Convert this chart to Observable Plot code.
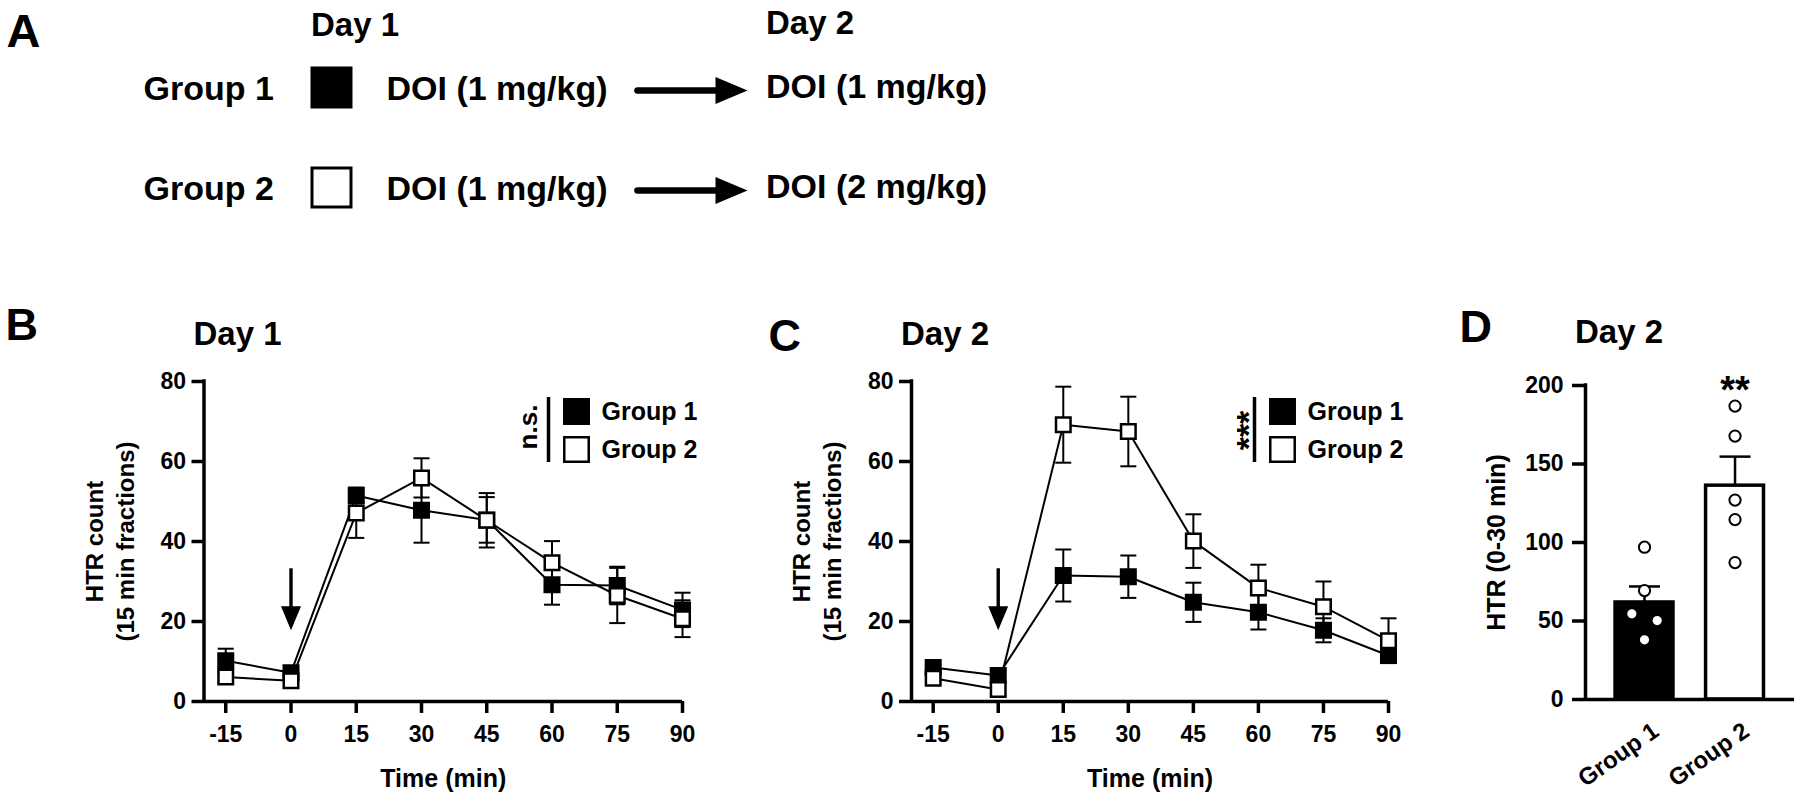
<!DOCTYPE html>
<html><head><meta charset="utf-8">
<script src="https://cdn.jsdelivr.net/npm/d3@7"></script>
<script src="https://cdn.jsdelivr.net/npm/@observablehq/plot@0.6"></script>
<style>
html,body{margin:0;padding:0;background:#fff;}
#fig{position:relative;width:1800px;height:801px;overflow:hidden;background:#fff;}
#fig > div{position:absolute;}
#fig svg{display:block;max-width:none;}
</style></head><body><div id="fig"></div>
<script>
// ---------------- data ----------------
const groups = ["Group 1", "Group 2"];
const days = ["Day 1", "Day 2"];
const day1Treatment = ["DOI (1 mg/kg)", "DOI (1 mg/kg)"];
const day2Treatment = ["DOI (1 mg/kg)", "DOI (2 mg/kg)"];

const times = [-15, 0, 15, 30, 45, 60, 75, 90];
const timeTicks = [-15, 0, 15, 30, 45, 60, 75, 90];
const htrTicks = [0, 20, 40, 60, 80];

const day1G1Mean = [10.2, 7.2, 51.5, 47.8, 45.4, 29.2, 29.0, 22.9];
const day1G1Sem  = [3.0, 1.0, 2.0, 8.1, 5.7, 5.0, 4.7, 4.3];
const day1G2Mean = [6.1, 5.2, 47.1, 55.9, 45.3, 34.7, 26.5, 20.7];
const day1G2Sem  = [1.2, 1.0, 6.2, 4.9, 6.8, 5.4, 6.9, 4.6];

const day2G1Mean = [8.5, 6.5, 31.5, 31.2, 24.8, 22.3, 17.8, 11.5];
const day2G1Sem  = [1.0, 1.0, 6.5, 5.3, 4.9, 4.3, 3.0, 1.5];
const day2G2Mean = [5.8, 3.0, 69.2, 67.5, 40.1, 28.4, 23.7, 15.2];
const day2G2Sem  = [1.2, 1.5, 9.5, 8.7, 6.7, 5.8, 6.3, 5.6];

const injectionTime = 0;      // DOI injection (arrow)
const injectionArrowTip = 17.8;
const sigDay1 = "n.s.";
const sigDay2 = "***";

const totalTicks = [0, 50, 100, 150, 200];
const totalMean = [61.8, 136.2];
const totalSem = [10.2, 18.5];
const g1Totals = [97.0, 69.4, 54.6, 50.3, 38.0];
const g2Totals = [186.9, 167.8, 127.0, 114.6, 87.2];
const g1PointOffset = [0, 0, -0.14, 0.14, 0];
const g2PointOffset = [0, 0, 0, 0, 0];
const sigTotal = "**";

// ---------------- helpers ----------------
const FONT = '"Liberation Sans", Arial, Helvetica, sans-serif';
const fig = document.getElementById("fig");
function place(node, left, top) {
  const d = document.createElement("div");
  d.style.left = left + "px"; d.style.top = top + "px";
  d.appendChild(node); fig.appendChild(d);
}
const baseStyle = {background: "none", color: "black", fontFamily: FONT, fontWeight: "bold", overflow: "visible"};
const fillScale = {domain: groups, range: ["black", "white"]};

const capSymbol = (w) => ({draw(ctx) { ctx.moveTo(-w, 0); ctx.lineTo(w, 0); }});
const downArrow = {draw(ctx) {
  ctx.moveTo(-1.7, -62); ctx.lineTo(1.7, -62); ctx.lineTo(1.7, -24);
  ctx.lineTo(10, -24); ctx.lineTo(0, 0); ctx.lineTo(-10, -24); ctx.lineTo(-1.7, -24); ctx.closePath();
}};
const rightArrow = {draw(ctx) {
  ctx.moveTo(-110, -3.3); ctx.lineTo(-32, -3.3); ctx.lineTo(-32, -13.5); ctx.lineTo(0, 0);
  ctx.lineTo(-32, 13.5); ctx.lineTo(-32, 3.3); ctx.lineTo(-110, 3.3);
  ctx.arc(-110, 0, 3.3, Math.PI / 2, 3 * Math.PI / 2); ctx.closePath();
}};

function series(mean, sem, group) {
  return times.map((t, i) => ({t, m: mean[i], s: sem[i], group}));
}

// ---------------- panel A ----------------
const rowsA = groups.map((g, i) => ({g, d1: day1Treatment[i], d2: day2Treatment[i]}));
place(Plot.plot({
  width: 1000, height: 240, margin: 0,
  style: baseStyle,
  y: {type: "point", domain: groups, range: [89, 189], padding: 0, axis: null},
  color: fillScale,
  marks: [
    Plot.text(["A"], {frameAnchor: "top-left", textAnchor: "start", lineAnchor: "top", dx: 6, dy: 13, fontSize: 47}),
    Plot.text([days[0]], {frameAnchor: "top-left", textAnchor: "start", lineAnchor: "top", dx: 310.5, dy: 12, fontSize: 33}),
    Plot.text([days[1]], {frameAnchor: "top-left", textAnchor: "start", lineAnchor: "top", dx: 765.5, dy: 10, fontSize: 33}),
    Plot.text(rowsA, {y: "g", text: "g", frameAnchor: "left", textAnchor: "start", dx: 143, fontSize: 34}),
    Plot.dot(rowsA, {y: "g", frameAnchor: "left", dx: 331, dy: -2, symbol: "square", r: 22, fill: "g", stroke: "black", strokeWidth: 3}),
    Plot.text(rowsA, {y: "g", text: "d1", frameAnchor: "left", textAnchor: "start", dx: 386, fontSize: 34}),
    Plot.dot(rowsA, {y: "g", frameAnchor: "left", dx: 747, dy: 1, symbol: rightArrow, fill: "black", stroke: "none"}),
    Plot.text(rowsA, {y: "g", text: "d2", frameAnchor: "left", textAnchor: "start", dx: 765.5, dy: -2, fontSize: 34})
  ]
}), 0, 0);

// ---------------- panels B & C ----------------
function timeCourse(cfg) {
  const data = [...series(cfg.g1m, cfg.g1s, groups[0]), ...series(cfg.g2m, cfg.g2s, groups[1])];
  const xDom = [-20, 90];
  return Plot.plot({
    width: cfg.width, height: 511,
    marginLeft: cfg.mL, marginRight: cfg.mR, marginTop: 91, marginBottom: 100,
    style: baseStyle,
    x: {domain: xDom, axis: null, label: null},
    y: {domain: [0, 80], axis: null, label: null},
    color: fillScale,
    marks: [
      Plot.ruleX([xDom[0]], {strokeWidth: 3.5, strokeLinecap: "square"}),
      Plot.ruleY([0], {strokeWidth: 3.5}),
      Plot.axisY(htrTicks, {tickSize: 12, tickPadding: 6, strokeWidth: 3.5, fontSize: 23, tickFormat: d => String(d)}),
      Plot.axisX(timeTicks, {tickSize: 12, tickPadding: 12, strokeWidth: 3.5, fontSize: 23, tickFormat: d => String(d)}),
      Plot.ruleX(data, {x: "t", y1: d => d.m - d.s, y2: d => d.m + d.s, strokeWidth: 2}),
      Plot.dot(data, {x: "t", y: d => d.m + d.s, symbol: capSymbol(8), fill: "none", stroke: "black", strokeWidth: 2}),
      Plot.dot(data, {x: "t", y: d => d.m - d.s, symbol: capSymbol(8), fill: "none", stroke: "black", strokeWidth: 2}),
      Plot.line(data, {x: "t", y: "m", z: "group", stroke: "black", strokeWidth: 2}),
      Plot.dot(data, {x: "t", y: "m", symbol: "square", r: 8.2, fill: "group", stroke: "black", strokeWidth: 2.5}),
      Plot.dot([{t: injectionTime, y: injectionArrowTip}], {x: "t", y: "y", symbol: downArrow, fill: "black", stroke: "none"}),
      Plot.text([cfg.letter], {frameAnchor: "top-left", textAnchor: "start", lineAnchor: "top", dx: cfg.letterDx, dy: cfg.letterDy, fontSize: 45}),
      Plot.text([cfg.title], {frameAnchor: "top-left", textAnchor: "start", lineAnchor: "top", dx: -10.5, dy: -60, fontSize: 33}),
      Plot.text(["HTR count\n(15 min fractions)"], {frameAnchor: "left", textAnchor: "middle", rotate: -90, lineAnchor: "top", lineHeight: 1.3, dx: -123.5, fontSize: 24}),
      Plot.text(["Time (min)"], {frameAnchor: "bottom", textAnchor: "middle", lineAnchor: "top", dy: 68, fontSize: 25})
    ]
  });
}
function legend(sig, sigDx, sigDy, sigSize) {
  return Plot.plot({
    width: 200, height: 90, marginLeft: 0, marginRight: 0, marginTop: 12, marginBottom: 13,
    style: baseStyle,
    x: {type: "point", domain: ["key"], range: [0, 0], axis: null},
    y: {type: "point", domain: groups, range: [25.5, 63.5], padding: 0, axis: null},
    color: fillScale,
    marks: [
      Plot.ruleX(["key"], {strokeWidth: 3.5, dx: 38}),
      Plot.dot(groups, {x: () => "key", y: d => d, symbol: "square", r: 13.8, fill: d => d, stroke: "black", strokeWidth: 2.5, dx: 66}),
      Plot.text(groups, {x: () => "key", y: d => d, text: d => d, textAnchor: "start", dx: 91, fontSize: 25}),
      Plot.text([sig], {x: () => "key", textAnchor: "middle", rotate: -90, lineAnchor: "top", dx: sigDx, dy: sigDy, fontSize: sigSize})
    ]
  });
}

place(timeCourse({width: 700, mL: 203.5, mR: 18, g1m: day1G1Mean, g1s: day1G1Sem, g2m: day1G2Mean, g2s: day1G2Sem,
  letter: "B", letterDx: -198.5, letterDy: -73, title: days[0]}), 0, 290);
place(timeCourse({width: 720, mL: 211, mR: 32, g1m: day2G1Mean, g1s: day2G1Sem, g2m: day2G2Mean, g2s: day2G2Sem,
  letter: "C", letterDx: -143, letterDy: -62, title: days[1]}), 700, 290);
place(legend(sigDay1, 8.5, -3, 26), 510, 385);
place(legend(sigDay2, 19.4, 0.5, 34), 1216, 385);

// ---------------- panel D ----------------
const totals = groups.map((g, i) => ({i, group: g, mean: totalMean[i], sem: totalSem[i]}));
const points = [
  ...g1Totals.map((v, k) => ({x: 0 + g1PointOffset[k], v})),
  ...g2Totals.map((v, k) => ({x: 1 + g2PointOffset[k], v}))
];
const dDom = [-0.652, 1.657];
const barHalf = 0.32;
place(Plot.plot({
  width: 380, height: 511, marginLeft: 165, marginRight: 6, marginTop: 95, marginBottom: 102,
  style: baseStyle,
  x: {domain: dDom, axis: null, label: null},
  y: {domain: [0, 200], axis: null, label: null},
  color: fillScale,
  marks: [
    Plot.rectY(totals, {x1: d => d.i - barHalf, x2: d => d.i + barHalf, y: "mean", fill: "group", stroke: "black", strokeWidth: 3.5}),
    Plot.ruleX(totals, {x: "i", y1: "mean", y2: d => d.mean + d.sem, strokeWidth: 2.5}),
    Plot.dot(totals, {x: "i", y: d => d.mean + d.sem, symbol: capSymbol(15.5), fill: "none", stroke: "black", strokeWidth: 2.5}),
    Plot.dot(points, {x: "x", y: "v", r: 5.6, fill: "white", stroke: "black", strokeWidth: 2}),
    Plot.ruleX([dDom[0]], {strokeWidth: 3.5, strokeLinecap: "square"}),
    Plot.ruleY([0], {strokeWidth: 3.5}),
    Plot.axisY(totalTicks, {tickSize: 13, tickPadding: 9, strokeWidth: 3.5, fontSize: 23, tickFormat: d => String(d)}),
    Plot.text(totals, {x: "i", text: "group", frameAnchor: "bottom", rotate: -35, textAnchor: "end", lineAnchor: "middle", dx: 11.6, dy: 28.8, fontSize: 24}),
    Plot.text([{i: 1, label: sigTotal}], {x: "i", text: "label", frameAnchor: "top", textAnchor: "middle", lineAnchor: "top", dy: -9.5, fontSize: 38}),
    Plot.text(["D"], {frameAnchor: "top-left", textAnchor: "start", lineAnchor: "top", dx: -126, dy: -75, fontSize: 45}),
    Plot.text([days[1]], {frameAnchor: "top-left", textAnchor: "start", lineAnchor: "top", dx: -10.5, dy: -66.4, fontSize: 33}),
    Plot.text(["HTR (0-30 min)"], {frameAnchor: "left", textAnchor: "middle", rotate: -90, lineAnchor: "top", dx: -98, fontSize: 25})
  ]
}), 1420, 290);
</script></body></html>
